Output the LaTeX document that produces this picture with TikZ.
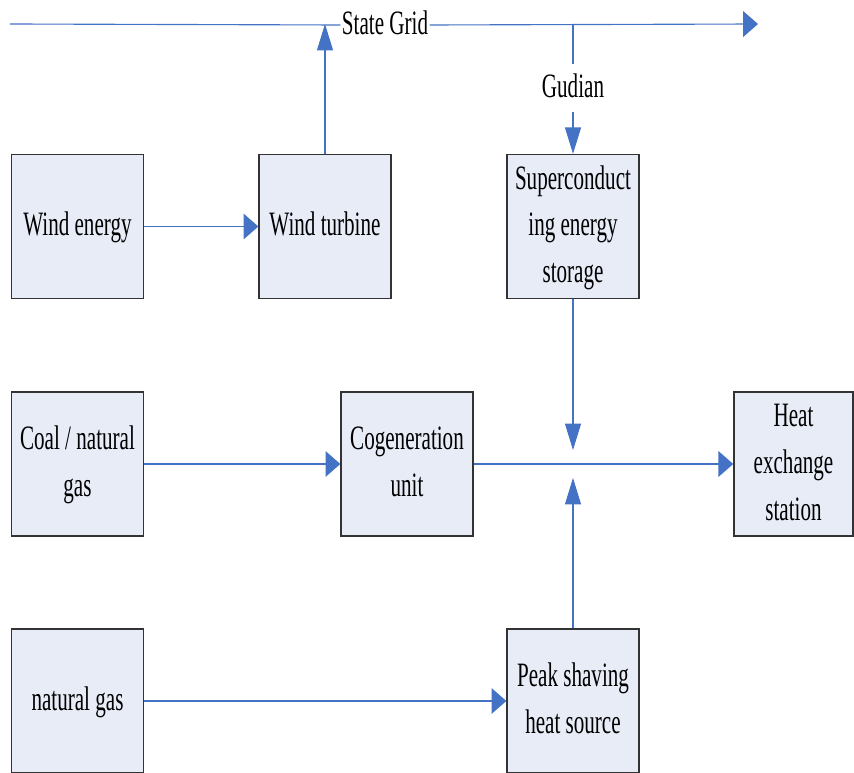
\documentclass[tikz,border=0pt]{standalone}
\usepackage{fontspec}
\setmainfont{Liberation Serif}
\usepackage{graphicx}
\usepackage{xcolor}
\usepackage{tikz}
\usetikzlibrary{arrows.meta}

\definecolor{boxfill}{RGB}{231,236,247}
\definecolor{flowblue}{RGB}{68,114,196}
% tall, narrow text as in the figure
\newcommand{\tallt}[1]{\scalebox{1}[1.62]{\begin{tabular}{@{}c@{}}#1\end{tabular}}}

\begin{document}
\begin{tikzpicture}[
    x=0.025cm, y=-0.025cm,
    every node/.style={font=\fontsize{15}{20.5}\selectfont, inner sep=0pt},
    blk/.style  ={rectangle,draw=black!80,fill=boxfill,line width=0.9pt,
                  minimum width=3.3cm,minimum height=3.6cm,align=center},
    lbl/.style  ={inner xsep=1pt},
    flow/.style ={flowblue,line width=0.8pt},
    harr/.style ={flow,-{Triangle[length=3.7mm,width=6.4mm]}},
    varr/.style ={flow,-{Triangle[length=6.6mm,width=4mm]}},
  ]
  \useasboundingbox (0,0) rectangle (854,773);
  \clip (0,0) rectangle (854,773);

  % Top row: wind and storage
  \node[blk] (WE)  at (77.5,226.5) {\tallt{Wind energy}};
  \node[blk] (WT)  at (325,226.5)  {\tallt{Wind turbine}};
  \node[blk] (SES) at (573,226.5)  {\tallt{Superconduct\\ing energy\\storage}};

  % Middle row: heat supply
  \node[blk] (COAL) at (77.5,464) {\tallt{Coal / natural\\gas}};
  \node[blk] (CHP)  at (407,464)  {\tallt{Cogeneration\\unit}};
  \node[blk,minimum width=2.98cm] (HX) at (793.5,464)
        {\tallt{Heat\\exchange\\station}};

  % Bottom row: peak shaving
  \node[blk] (NG) at (77.5,701) {\tallt{natural gas}};
  \node[blk] (PK) at (573,701)  {\tallt{Peak shaving\\heat source}};

  % Grid bus and labels
  \node[lbl] (grid) at (385,25) {\tallt{State Grid}};
  \node[lbl] (GU)   at (573,88) {\tallt{Gudian}};
  \coordinate (gridL) at (10,24);
  \coordinate (gridR) at (758,24);
  \coordinate (joinU) at (573,450);
  \coordinate (joinD) at (573,478);

  \draw[flow] (gridL) -- (grid.west);
  \draw[harr] (grid.east) -- (gridR);
  \draw[varr] (WT) -- (WT |- gridL);
  \draw[flow] (SES |- gridL) -- (GU);
  \draw[varr] (GU) -- (SES);

  % Energy flows
  \draw[harr] (WE) -- (WT);
  \draw[harr] (COAL) -- (CHP);
  \draw[harr] (CHP) -- (HX);
  \draw[varr] (SES) -- (joinU);
  \draw[varr] (PK) -- (joinD);
  \draw[harr] (NG) -- (PK);
\end{tikzpicture}
\end{document}
